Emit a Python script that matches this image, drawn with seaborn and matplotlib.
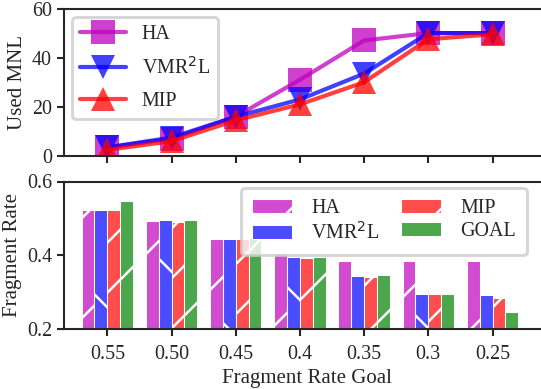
import numpy as np
import pandas as pd
import matplotlib
matplotlib.use("Agg")
import matplotlib.pyplot as plt
import seaborn as sns

# data
goals = ["0.55", "0.50", "0.45", "0.4", "0.35", "0.3", "0.25"]

mnl_ha = [3.5, 7, 16, 31, 47, 50, 50]
mnl_vmr = [3.5, 7.5, 16, 23, 33.5, 50, 50]
mnl_mip = [2.5, 6, 14.5, 21, 30, 47.5, 49.5]

fr_ha = [0.523, 0.493, 0.445, 0.405, 0.385, 0.384, 0.384]
fr_vmr = [0.523, 0.495, 0.445, 0.394, 0.343, 0.296, 0.292]
fr_mip = [0.523, 0.490, 0.443, 0.393, 0.341, 0.294, 0.284]
fr_goal = [0.546, 0.496, 0.447, 0.396, 0.346, 0.296, 0.247]

methods = ["HA", "VMR$^2$L", "MIP", "GOAL"]
bar_colors = ["#D24CD2", "#4C4CFF", "#FF4C4C", "#4CA64C"]
hatches = ["/", "\\", "//", "/"]

DPI = 300
W, H = 541, 389

sns.set_style("ticks")
plt.rcParams["font.family"] = ["Liberation Serif", "DejaVu Serif"]
plt.rcParams.update({
    "font.size": 4.8,
    "axes.labelsize": 5.0,
    "xtick.labelsize": 4.8,
    "ytick.labelsize": 4.8,
    "legend.fontsize": 4.8,
    "axes.linewidth": 0.5,
    "xtick.major.size": 1.7,
    "ytick.major.size": 1.7,
    "xtick.major.width": 0.5,
    "ytick.major.width": 0.5,
    "xtick.major.pad": 2.1,
    "ytick.major.pad": 1.2,
    "axes.labelpad": 1.2,
    "hatch.linewidth": 0.6,
    "legend.edgecolor": "0.8",
})

fig = plt.figure(figsize=(W / DPI, H / DPI), dpi=DPI)
ax1 = fig.add_axes([64 / W, 1 - 156 / H, 485 / W, 147.5 / H])
ax2 = fig.add_axes([64 / W, 1 - 329 / H, 485 / W, 147.5 / H])

# top: used MNL
for vals, name, col, mk in [(mnl_ha, "HA", "m", "s"),
                            (mnl_vmr, "VMR$^2$L", "b", "v"),
                            (mnl_mip, "MIP", "r", "^")]:
    sns.lineplot(x=goals, y=vals, ax=ax1, sort=False, color=col, marker=mk,
                 markersize=5.6, markeredgewidth=0,
                 linewidth=1.0, alpha=0.75, label=name)
ax1.set_xlim(-0.675, 6.88)
ax1.set_ylim(0, 60)
ax1.set_yticks([0, 20, 40, 60])
ax1.tick_params(labelbottom=False)
ax1.set_xlabel("")
ax1.set_ylabel("Used MNL")
leg1 = ax1.legend(loc="upper left", bbox_to_anchor=(0.016, 0.944), borderaxespad=0,
                  handlelength=2.3, labelspacing=0.65, fancybox=True)
leg1.get_frame().set_linewidth(0.7)

# bottom: fragment rate
frag = pd.DataFrame({
    "goal": goals * 4,
    "method": np.repeat(methods, len(goals)),
    "rate": fr_ha + fr_vmr + fr_mip + fr_goal,
})
sns.barplot(data=frag, x="goal", y="rate", hue="method", order=goals,
            hue_order=methods, palette=bar_colors, saturation=1, ax=ax2,
            edgecolor="white", linewidth=0.25, width=0.8)
for cont, h in zip(ax2.containers, hatches):
    for p in cont:
        p.set_hatch(h)
ax2.set_xlim(-0.675, 6.88)
ax2.set_ylim(0.2, 0.6)
ax2.set_yticks([0.2, 0.4, 0.6])
ax2.set_yticklabels(["0.2", "0.4", "0.6"])
ax2.set_xlabel("Fragment Rate Goal")
ax2.set_ylabel("Fragment Rate")
leg2 = ax2.legend(ax2.containers, methods, ncol=2, loc="upper right",
                  bbox_to_anchor=(0.955, 0.954), borderaxespad=0,
                  handletextpad=0.95, columnspacing=1.1, labelspacing=0.2,
                  borderpad=0.55, fancybox=True)
leg2.get_frame().set_linewidth(0.7)

for ax in (ax1, ax2):
    for s in ax.spines.values():
        s.set_visible(True)

fig.align_ylabels([ax1, ax2])
fig.savefig("out.png", dpi=DPI)
